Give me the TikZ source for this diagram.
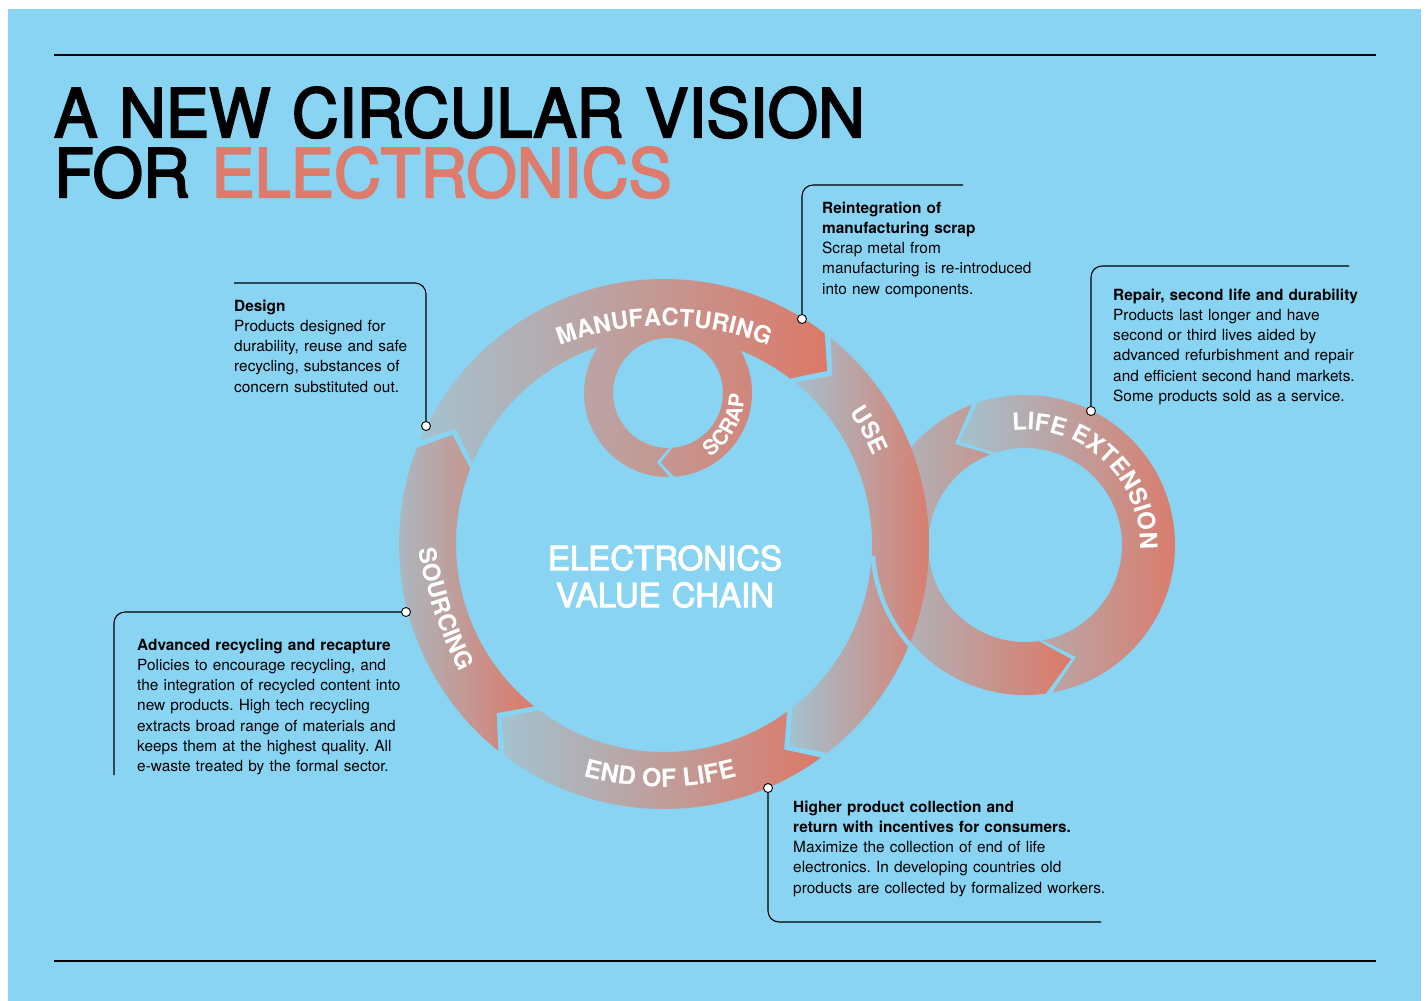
\documentclass[tikz,border=0pt]{standalone}
\usepackage{fontspec}
\setmainfont{TeX Gyre Heros}
\newfontfamily\medfont{TeX Gyre Heros}[FakeBold=3]
\usetikzlibrary{calc,decorations.text}
\definecolor{bg}{RGB}{136,212,242}
\definecolor{greyb}{RGB}{163,194,207}
\definecolor{salm}{RGB}{220,121,103}
\definecolor{titlesalm}{RGB}{221,123,108}
% annular arrow segment: #1 centre, #2 tail angle, #3 head angle, #4 signed chevron depth, #5 outer r, #6 inner r, #7 tip r
\newcommand{\seg}[7]{($(#1)+(#2:#5)$) arc[start angle=#2,end angle=#3,radius=#5] -- ($(#1)+({#3+#4}:#7)$) -- ($(#1)+(#3:#6)$) arc[start angle=#3,end angle=#2,radius=#6] -- ($(#1)+({#2+#4}:#7)$) -- cycle }
\newcommand{\rtfont}{\fontsize{24pt}{24pt}\selectfont\bfseries}
\newcommand{\eolfont}{\fontsize{25pt}{25pt}\selectfont\bfseries}
\newcommand{\scfont}{\fontsize{21pt}{21pt}\selectfont\bfseries}
\frenchspacing
\begin{document}
\begin{tikzpicture}[x=1pt,y=-1pt,
  conn/.style={draw=black, line width=1.1pt, rounded corners=11pt},
  dot/.style={circle, draw=black, fill=white, line width=0.9pt, minimum size=9pt, inner sep=0pt},
  body/.style={anchor=base west, inner sep=0pt, text width=420pt, align=left, font=\fontsize{15.4pt}{20.25pt}\selectfont},
  arrowfill/.style={left color=greyb, right color=salm},
  ringtext/.style={decorate, decoration={text along path, text align=center, text color=white, #1}},
  rule/.style={draw=black, line width=1.3pt}]
\fill[white] (0,0) rectangle (1427,1001);
\fill[bg] (8,9) rectangle (1421,1001);
\useasboundingbox (0,0) rectangle (1427,1001);

\coordinate (M) at (664,544);
\coordinate (S) at (668,393);
\coordinate (R) at (1025,545);

% right ring (life extension)
\shade[arrowfill] \seg{R}{79.5}{-108.3}{-14}{150}{97}{123};
\shade[arrowfill] \seg{R}{-110.8}{-278}{-14}{150}{97}{123};

% main ring
\shade[arrowfill] \seg{M}{128.7}{201.3}{6}{265}{208}{238};
\shade[arrowfill] \seg{M}{-157}{-52.7}{6}{265}{208}{238} \seg{S}{-100}{85.5}{10.5}{84}{55}{70} \seg{S}{89}{280}{10.5}{84}{55}{70};
\shade[arrowfill] \seg{M}{-51}{52}{6}{265}{208}{238};
\shade[arrowfill] \seg{M}{53.7}{127}{6}{265}{208}{238};

% overlap details
\draw[salm!60!greyb, line width=0.5pt, opacity=0.6] ($(R)+(-139.5:150)$) arc[start angle=-139.5,end angle=-182,radius=150];
\draw[bg, line width=4.5pt] ($(R)+(176:152.5)$) arc[start angle=176,end angle=136,radius=152.5];

% ring labels
\coordinate (T) at (664,618);
\coordinate (E) at (660,498);
\coordinate (Q) at (822,483);
\path[ringtext={text={|\rtfont|MANUFACTURING}}] ($(T)+(-130:292)$) arc[start angle=-130,end angle=-50,radius=292];
\path[ringtext={text={|\rtfont|USE}}] ($(M)+(-59:227)$) arc[start angle=-59,end angle=1,radius=227];
\path[ringtext={text={|\eolfont|END OF LIFE}}] ($(E)+(130:289)$) arc[start angle=130,end angle=50,radius=289];
\path[ringtext={text={|\rtfont|SOURCING}}] ($(Q)+(185:408.5)$) arc[start angle=185,end angle=138,radius=408.5];
\path[ringtext={text={|\scfont|SCRAP}}] ($(S)+(90:76.5)$) arc[start angle=90,end angle=-32,radius=76.5];
\path[ringtext={text={|\rtfont|LIFE EXTENSION}}] ($(R)+(-120:115)$) arc[start angle=-120,end angle=26,radius=115];

\node[anchor=base, inner sep=0pt, text width=400pt, align=center, text=white, font=\medfont\fontsize{33pt}{37pt}\selectfont] (centre) at (665,570) {ELECTRONICS\\VALUE CHAIN};

% title and rules
\node[anchor=base west, inner sep=0pt, text width=1000pt, align=left, font=\medfont\fontsize{67pt}{60pt}\selectfont] (title) at (54,137) {\scalebox{0.968}[1]{A NEW CIRCULAR VISION}\\\scalebox{0.968}[1]{FOR \textcolor{titlesalm}{ELECTRONICS}}};
\draw[rule] (54,55) -- (1376,55);
\draw[rule] (54,961) -- (1376,961);

% annotations
\node[body] (design) at (234,311) {\textbf{Design}\\Products designed for\\durability, reuse and safe\\recycling, substances of\\concern substituted out.};
\node[body] (reint) at (822,213) {\textbf{Reintegration of}\\\textbf{manufacturing scrap}\\Scrap metal from\\manufacturing is re-introduced\\into new components.};
\node[body] (repair) at (1113,300) {\textbf{Repair, second life and durability}\\Products last longer and have\\second or third lives aided by\\advanced refurbishment and repair\\and efficient second hand markets.\\Some products sold as a service.};
\node[body] (recyc) at (137,650) {\textbf{Advanced recycling and recapture}\\Policies to encourage recycling, and\\the integration of recycled content into\\new products. High tech recycling\\extracts broad range of materials and\\keeps them at the highest quality. All\\e-waste treated by the formal sector.};
\node[body] (collect) at (793,812) {\textbf{Higher product collection and}\\\textbf{return with incentives for consumers.}\\Maximize the collection of end of life\\electronics. In developing countries old\\products are collected by formalized workers.};

\coordinate (c1) at (234,283);
\coordinate (c2) at (963,185);
\coordinate (c3) at (1349,266);
\coordinate (c4) at (114,775);
\coordinate (c5) at (1101,922);
\node[dot] (d1) at (426,426) {};
\node[dot] (d2) at (802,319) {};
\node[dot] (d3) at (1091,411) {};
\node[dot] (d4) at (406,612) {};
\node[dot] (d5) at (768,788) {};
\draw[conn] (c1) -| (d1);
\draw[conn] (c2) -| (d2);
\draw[conn] (c3) -| (d3);
\draw[conn] (d4) -| (c4);
\draw[conn] (d5) |- (c5);
\end{tikzpicture}
\end{document}
